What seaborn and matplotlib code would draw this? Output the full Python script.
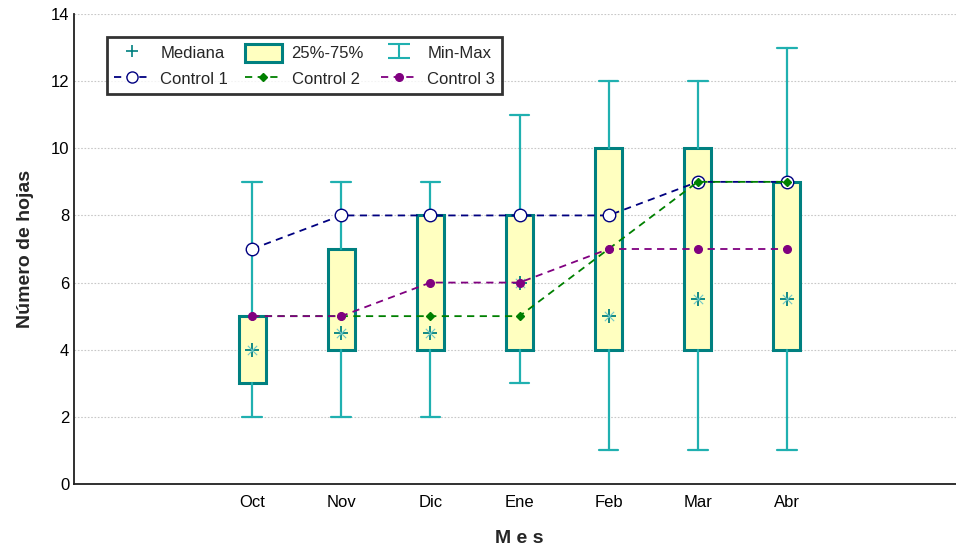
import numpy as np
import matplotlib
matplotlib.use("Agg")
import matplotlib.pyplot as plt
import seaborn as sns
from matplotlib.path import Path
from matplotlib.lines import Line2D
from matplotlib.patches import Patch

# Monthly leaf counts: box statistics per month
meses = ["Oct", "Nov", "Dic", "Ene", "Feb", "Mar", "Abr"]
minimo = [2, 2, 2, 3, 1, 1, 1]
q1 = [3, 4, 4, 4, 4, 4, 4]
mediana = [4, 4.5, 4.5, 6, 5, 5.5, 5.5]
q3 = [5, 7, 8, 8, 10, 10, 9]
maximo = [9, 9, 9, 11, 12, 12, 13]

# Control plants
control1 = [7, 8, 8, 8, 8, 9, 9]
control2 = [5, 5, 5, 5, 7, 9, 9]
control3 = [5, 5, 6, 6, 7, 7, 7]

sns.set_style("white")
plt.rcParams["font.family"] = ["Liberation Sans", "DejaVu Sans"]

TEAL = "#008080"
TEAL_LIGHT = "#20B0B0"
FILL = "#FFFFC0"
NAVY = "#000080"
GREEN = "#008000"
PURPLE = "#800080"

fig = plt.figure(figsize=(9.56, 5.5), dpi=100)
W, H = 956, 550
left, right, top, bottom = 74, 965, 14, 484
ax = fig.add_axes([left / W, (H - bottom) / H, (right - left) / W, (bottom - top) / H])

pos = np.arange(2, 2 + len(meses))

stats = [
    dict(whislo=lo, q1=a, med=m, q3=b, whishi=hi, label=name)
    for name, lo, a, m, b, hi in zip(meses, minimo, q1, mediana, q3, maximo)
]
ax.bxp(
    stats, positions=pos, widths=0.3, capwidths=0.22, showfliers=False,
    patch_artist=True,
    boxprops=dict(facecolor=FILL, edgecolor=TEAL, linewidth=2.2),
    whiskerprops=dict(color=TEAL_LIGHT, linewidth=1.6),
    capprops=dict(color=TEAL_LIGHT, linewidth=1.6),
    medianprops=dict(visible=False),
    zorder=2,
)

# Median markers
sns.scatterplot(x=pos, y=mediana, marker="+", s=90, color=TEAL, linewidth=1.3,
                ax=ax, zorder=3)
sns.scatterplot(x=pos, y=mediana, marker="x", s=45, color="#70C8C8", linewidth=0.8,
                ax=ax, zorder=3)

# Control series
series = [
    (control1, NAVY, "o", 9, "white"),
    (control2, GREEN, "D", 4.5, GREEN),
    (control3, PURPLE, "o", 5.5, PURPLE),
]
for vals, col, mk, ms, mfc in series:
    sns.lineplot(x=pos, y=vals, color=col, linewidth=1.3, marker=mk, markersize=ms,
                 markerfacecolor=mfc, markeredgecolor=col, markeredgewidth=1.0,
                 ax=ax, sort=False, zorder=4, legend=False)
    ax.lines[-1].set_dashes((4, 3))

ax.set_xlim(0, 10)
ax.set_ylim(0, 14)
ax.set_yticks(np.arange(0, 15, 2))
ax.set_xticks(np.arange(1, 10))
ax.set_xticklabels([""] + meses + [""])
ax.tick_params(axis="both", direction="in", length=4, width=1, labelsize=12, colors="black")
ax.tick_params(axis="x", pad=8)
ax.yaxis.grid(True, linestyle=(0, (1.5, 1.5)), color="#C8C8C8", linewidth=0.8)
ax.set_axisbelow(True)
for s in ["top", "right"]:
    ax.spines[s].set_visible(False)
for s in ["left", "bottom"]:
    ax.spines[s].set_color("#202020")
    ax.spines[s].set_linewidth(1.3)

ax.set_ylabel("Número de hojas", fontsize=14, fontweight="bold", labelpad=12)
ax.set_xlabel("M e s", fontsize=14, fontweight="bold", labelpad=14)

# Legend
minmax = Path([(-1.6, 1), (1.6, 1), (0, 1), (0, -1), (-1.6, -1), (1.6, -1)],
              [Path.MOVETO, Path.LINETO, Path.MOVETO, Path.LINETO, Path.MOVETO, Path.LINETO])
handles = [
    Line2D([], [], ls="none", marker="+", ms=9, mew=1.2, color=TEAL),
    Line2D([], [], color=NAVY, ls=(0, (4, 3)), lw=1.3, marker="o", ms=8,
           mfc="white", mec=NAVY),
    Patch(facecolor=FILL, edgecolor=TEAL, linewidth=2.2),
    Line2D([], [], color=GREEN, ls=(0, (4, 3)), lw=1.3, marker="D", ms=4.5,
           mfc=GREEN, mec=GREEN),
    Line2D([], [], ls="none", marker=minmax, ms=16, mew=1.5, color=TEAL_LIGHT),
    Line2D([], [], color=PURPLE, ls=(0, (4, 3)), lw=1.3, marker="o", ms=5.5,
           mfc=PURPLE, mec=PURPLE),
]
labels = ["Mediana", "Control 1", "25%-75%", "Control 2", "Min-Max", "Control 3"]
leg = ax.legend(handles, labels, ncol=3, loc="upper left",
                bbox_to_anchor=(107 / W, 1 - 37 / H), bbox_transform=fig.transFigure,
                borderaxespad=0, fontsize=12, frameon=True, fancybox=False,
                edgecolor="black", handlelength=2.2, handleheight=1.3,
                handletextpad=0.6, columnspacing=1.0, borderpad=0.4,
                labelspacing=0.45)
leg.get_frame().set_linewidth(2)
leg.set_zorder(10)

fig.savefig("out.png", dpi=100)
